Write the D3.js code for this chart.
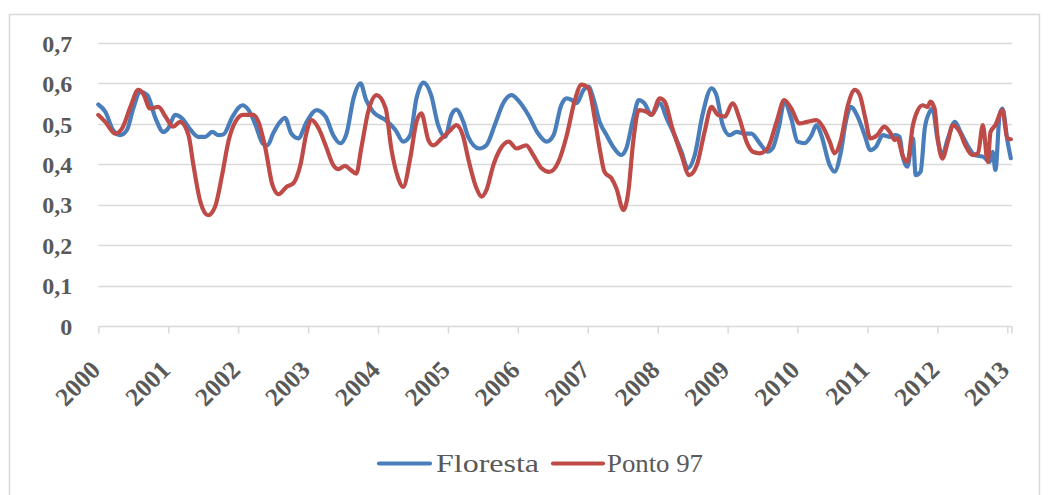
<!DOCTYPE html>
<html>
<head>
<meta charset="utf-8">
<script src="https://cdn.jsdelivr.net/npm/d3@7/dist/d3.min.js"></script>
<style>
  html, body { margin: 0; padding: 0; background: #fff; }
  svg { display: block; }
</style>
</head>
<body>
<svg id="chart" width="1049" height="495"></svg>
<script>
// ---- Data ----
const yearLabels = ["2000","2001","2002","2003","2004","2005","2006","2007","2008","2009","2010","2011","2012","2013"];
const yTickValues = [0, 0.1, 0.2, 0.3, 0.4, 0.5, 0.6, 0.7];
const seriesNames = ["Floresta", "Ponto 97"];

// [fractional year, value]
const floresta = [
  [2000.00,0.548],[2000.10,0.530],[2000.21,0.485],[2000.31,0.472],[2000.41,0.485],[2000.50,0.538],
  [2000.60,0.579],[2000.70,0.571],[2000.82,0.513],[2000.93,0.480],[2001.00,0.489],[2001.10,0.522],
  [2001.20,0.513],[2001.32,0.485],[2001.43,0.468],[2001.53,0.468],[2001.63,0.480],[2001.72,0.472],
  [2001.79,0.474],[2001.92,0.518],[2002.06,0.546],[2002.15,0.534],[2002.25,0.497],[2002.35,0.452],
  [2002.42,0.447],[2002.50,0.476],[2002.58,0.500],[2002.67,0.515],[2002.76,0.476],[2002.86,0.464],
  [2002.98,0.505],[2003.12,0.534],[2003.25,0.518],[2003.36,0.472],[2003.46,0.452],[2003.55,0.476],
  [2003.65,0.563],[2003.75,0.600],[2003.83,0.559],[2003.93,0.530],[2004.11,0.509],[2004.25,0.485],
  [2004.36,0.456],[2004.46,0.472],[2004.55,0.563],[2004.65,0.602],[2004.76,0.571],[2004.86,0.497],
  [2004.96,0.468],[2005.05,0.522],[2005.12,0.535],[2005.22,0.505],[2005.29,0.468],[2005.45,0.439],
  [2005.55,0.447],[2005.67,0.497],[2005.79,0.551],[2005.91,0.571],[2006.02,0.555],[2006.15,0.522],
  [2006.29,0.476],[2006.41,0.456],[2006.51,0.472],[2006.62,0.546],[2006.70,0.563],[2006.77,0.559],
  [2006.84,0.551],[2006.94,0.584],[2007.01,0.592],[2007.08,0.563],[2007.17,0.505],[2007.27,0.472],
  [2007.38,0.439],[2007.48,0.423],[2007.55,0.439],[2007.65,0.513],[2007.73,0.559],[2007.81,0.551],
  [2007.91,0.522],[2008.03,0.551],[2008.13,0.513],[2008.24,0.472],[2008.34,0.431],[2008.43,0.390],
  [2008.53,0.423],[2008.64,0.522],[2008.77,0.588],[2008.84,0.571],[2008.93,0.497],[2009.03,0.472],
  [2009.13,0.480],[2009.24,0.476],[2009.34,0.476],[2009.46,0.452],[2009.57,0.431],[2009.64,0.439],
  [2009.74,0.497],[2009.81,0.555],[2009.91,0.513],[2010.00,0.456],[2010.10,0.452],[2010.20,0.472],
  [2010.27,0.497],[2010.34,0.472],[2010.46,0.398],[2010.53,0.382],[2010.62,0.431],[2010.69,0.505],
  [2010.76,0.542],[2010.86,0.518],[2010.96,0.472],[2011.04,0.435],[2011.12,0.443],[2011.22,0.472],
  [2011.32,0.468],[2011.40,0.472],[2011.46,0.468],[2011.50,0.423],[2011.57,0.394],[2011.65,0.464],
  [2011.69,0.373],[2011.76,0.382],[2011.82,0.489],[2011.89,0.530],[2011.93,0.538],[2012.00,0.464],
  [2012.07,0.423],[2012.15,0.464],[2012.25,0.505],[2012.33,0.480],[2012.43,0.447],[2012.53,0.423],
  [2012.65,0.419],[2012.75,0.406],[2012.79,0.431],[2012.83,0.386],[2012.89,0.522],[2012.93,0.538],
  [2013.00,0.460],[2013.05,0.415]
];

const ponto97 = [
  [2000.00,0.522],[2000.10,0.505],[2000.24,0.476],[2000.34,0.489],[2000.46,0.542],[2000.57,0.584],
  [2000.64,0.575],[2000.74,0.538],[2000.86,0.542],[2000.96,0.518],[2001.07,0.493],[2001.17,0.505],
  [2001.29,0.472],[2001.36,0.398],[2001.46,0.307],[2001.57,0.274],[2001.67,0.295],[2001.77,0.373],
  [2001.86,0.456],[2001.96,0.505],[2002.07,0.522],[2002.22,0.522],[2002.29,0.505],[2002.39,0.439],
  [2002.49,0.349],[2002.58,0.326],[2002.69,0.344],[2002.79,0.353],[2002.89,0.398],[2002.98,0.480],
  [2003.05,0.509],[2003.15,0.489],[2003.25,0.447],[2003.36,0.398],[2003.43,0.388],[2003.53,0.396],
  [2003.61,0.386],[2003.69,0.377],[2003.76,0.439],[2003.86,0.530],[2003.98,0.571],[2004.11,0.538],
  [2004.19,0.439],[2004.29,0.365],[2004.36,0.344],[2004.46,0.414],[2004.55,0.505],[2004.62,0.526],
  [2004.72,0.460],[2004.79,0.447],[2004.91,0.464],[2005.04,0.485],[2005.12,0.497],[2005.22,0.468],
  [2005.29,0.414],[2005.41,0.340],[2005.48,0.320],[2005.55,0.336],[2005.65,0.398],[2005.74,0.435],
  [2005.87,0.456],[2005.98,0.439],[2006.12,0.447],[2006.22,0.423],[2006.34,0.390],[2006.45,0.381],
  [2006.58,0.406],[2006.70,0.472],[2006.81,0.555],[2006.91,0.597],[2007.01,0.588],[2007.10,0.513],
  [2007.17,0.439],[2007.24,0.381],[2007.34,0.365],[2007.41,0.340],[2007.51,0.287],[2007.58,0.332],
  [2007.65,0.456],[2007.73,0.534],[2007.84,0.530],[2007.91,0.522],[2008.03,0.563],[2008.10,0.555],
  [2008.21,0.489],[2008.34,0.423],[2008.45,0.373],[2008.56,0.398],[2008.67,0.480],[2008.77,0.542],
  [2008.86,0.522],[2008.96,0.518],[2009.07,0.551],[2009.17,0.513],[2009.27,0.456],[2009.36,0.431],
  [2009.46,0.427],[2009.57,0.439],[2009.70,0.505],[2009.81,0.559],[2009.91,0.538],[2010.03,0.501],
  [2010.14,0.505],[2010.27,0.509],[2010.36,0.493],[2010.46,0.456],[2010.53,0.427],[2010.62,0.460],
  [2010.72,0.546],[2010.82,0.584],[2010.89,0.571],[2010.97,0.513],[2011.04,0.464],[2011.14,0.472],
  [2011.24,0.493],[2011.32,0.480],[2011.39,0.460],[2011.43,0.464],[2011.50,0.423],[2011.57,0.406],
  [2011.65,0.497],[2011.72,0.534],[2011.79,0.546],[2011.86,0.542],[2011.90,0.555],[2011.96,0.538],
  [2012.00,0.472],[2012.07,0.414],[2012.15,0.456],[2012.22,0.497],[2012.32,0.480],[2012.40,0.447],
  [2012.50,0.423],[2012.58,0.427],[2012.65,0.497],[2012.72,0.406],[2012.76,0.480],[2012.83,0.497],
  [2012.93,0.534],[2013.00,0.464],[2013.05,0.462]
];

const colors = ["#4a7ebb", "#be4b48"];

// ---- Drawing ----
const svg = d3.select("#chart");
const plot = { left: 98.3, right: 1012, top: 43, bottom: 326 };

const x = d3.scaleLinear().domain([2000, 2013.067]).range([plot.left, plot.right]);
const y = d3.scaleLinear().domain([0, 0.7]).range([plot.bottom, plot.top]);

const font = "'Liberation Serif','Times New Roman',serif";
const textColor = "#595959";

// chart frame
svg.append("rect")
  .attr("x", 9.5).attr("y", 14.5).attr("width", 1030).attr("height", 500)
  .attr("fill", "#fff").attr("stroke", "#d9d9d9").attr("stroke-width", 1.5);

// gridlines (0.1 .. 0.7)
svg.append("g")
  .selectAll("line")
  .data(yTickValues.filter(d => d > 0))
  .join("line")
  .attr("x1", plot.left).attr("x2", plot.right)
  .attr("y1", d => Math.round(y(d)) + 0.5).attr("y2", d => Math.round(y(d)) + 0.5)
  .attr("stroke", "#d9d9d9").attr("stroke-width", 1.5);

// y axis labels
const fmt = d => d === 0 ? "0" : d3.format(".1f")(d).replace(".", ",");
const yAxis = d3.axisLeft(y).tickValues(yTickValues).tickFormat(fmt).tickSize(0).tickPadding(26);
const gy = svg.append("g").attr("transform", `translate(${plot.left},0)`).call(yAxis);
gy.select(".domain").remove();
gy.selectAll("text")
  .attr("font-family", font).attr("font-weight", "bold").attr("font-size", 24)
  .attr("fill", textColor).attr("dy", "0.34em");

// x axis
const xAxis = d3.axisBottom(x)
  .tickValues(yearLabels.map(Number))
  .tickFormat(d => String(d))
  .tickSize(7).tickSizeOuter(0);
const gx = svg.append("g").attr("transform", `translate(0,${plot.bottom + 0.5})`).call(xAxis);
gx.select(".domain").attr("stroke", "#d9d9d9").attr("stroke-width", 1.5)
  .attr("d", `M${plot.left},0H${plot.right}`);
gx.selectAll(".tick line").attr("stroke", "#d9d9d9").attr("stroke-width", 1.5);
gx.append("line").attr("x1", plot.right).attr("x2", plot.right).attr("y1", 0).attr("y2", 7)
  .attr("stroke", "#d9d9d9").attr("stroke-width", 1.5);
gx.selectAll(".tick text")
  .attr("font-family", font).attr("font-weight", "bold").attr("font-size", 25.5)
  .attr("fill", textColor)
  .attr("text-anchor", "end")
  .attr("dy", 0)
  .attr("transform", "translate(3,45) rotate(-45)")
  .attr("y", 0).attr("x", 0);

// lines
const line = d3.line()
  .x(d => x(d[0]))
  .y(d => y(d[1]))
  .curve(d3.curveMonotoneX);

[floresta, ponto97].forEach((data, i) => {
  svg.append("path")
    .datum(data)
    .attr("fill", "none")
    .attr("stroke", colors[i])
    .attr("stroke-width", 4.2)
    .attr("stroke-linejoin", "round")
    .attr("stroke-linecap", "round")
    .attr("d", line);
});

// legend
const legendItems = [
  { name: seriesNames[0], color: colors[0], x1: 379, x2: 430, tx: 436, len: 103 },
  { name: seriesNames[1], color: colors[1], x1: 553, x2: 603, tx: 607, len: 96 }
];
const lg = svg.append("g");
legendItems.forEach(it => {
  lg.append("line").attr("x1", it.x1).attr("x2", it.x2).attr("y1", 463.5).attr("y2", 463.5)
    .attr("stroke", it.color).attr("stroke-width", 4.2).attr("stroke-linecap", "round");
  lg.append("text").attr("x", it.tx).attr("y", 463.5).attr("dy", "0.34em")
    .attr("font-family", font).attr("font-size", 26).attr("fill", textColor)
    .attr("textLength", it.len).attr("lengthAdjust", "spacingAndGlyphs")
    .text(it.name);
});
</script>
</body>
</html>
